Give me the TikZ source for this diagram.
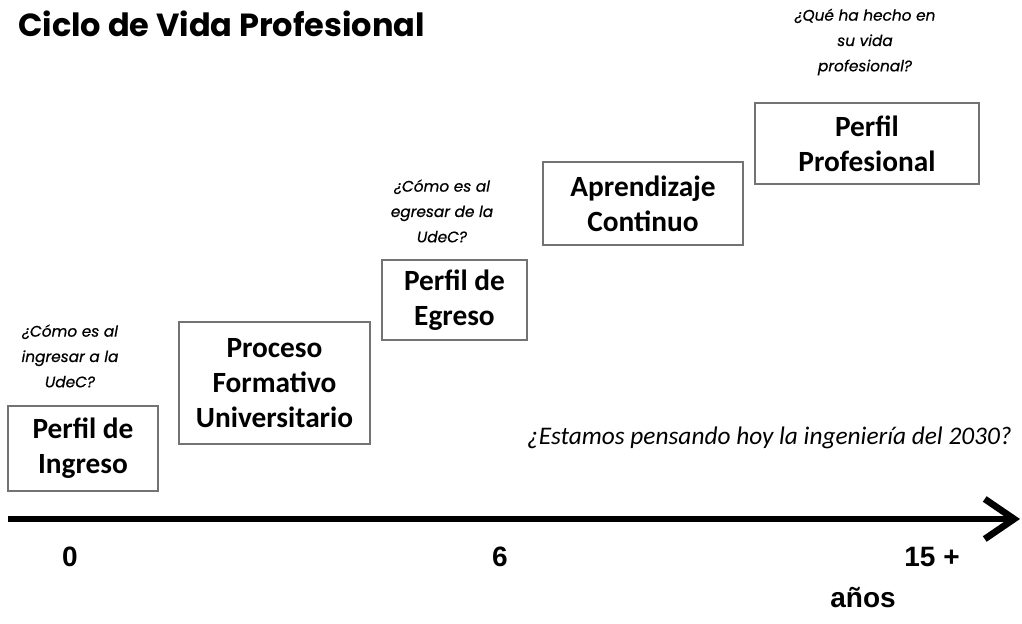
\documentclass[tikz,border=0pt]{standalone}
\usepackage{fontspec}
\setmainfont{Carlito}
\newfontfamily\titlefont{Poppins}
\newfontfamily\qfont{Poppins}[FakeBold=0.6]
\newfontfamily\numfont{Liberation Sans}
\usetikzlibrary{arrows.meta}
\begin{document}
\begin{tikzpicture}[x=0.75pt,y=-0.75pt,
  stage/.style 2 args={draw=black!55,line width=1pt,align=center,inner sep=0pt,
    minimum width=#1*0.75pt,minimum height=#2*0.75pt,
    font=\fontsize{22}{26}\selectfont\bfseries},
  question/.style={align=center,inner sep=0pt,text=black,
    font=\qfont\itshape\fontsize{11.5}{19}\selectfont},
  tick/.style={inner sep=0pt,font=\numfont\bfseries\fontsize{21}{24}\selectfont}]
\useasboundingbox (0,0) rectangle (1022,624);
\node[anchor=base west,inner sep=0pt,font=\titlefont\bfseries\fontsize{24}{28}\selectfont] (title) at (18,37) {Ciclo de Vida Profesional};

\node[stage={150}{85}] (ingreso) at (83,448.5) {Perfil de\\Ingreso};
\node[stage={191}{122}] (proceso) at (274.5,383) {Proceso\\Formativo\\Universitario};
\node[stage={145}{80}] (egreso) at (454.5,300) {Perfil de\\Egreso};
\node[stage={200}{83}] (aprend) at (643,203.5) {Aprendizaje\\Continuo};
\node[stage={224}{81}] (prof) at (867,143.5) {Perfil\\Profesional};

\node[question] (q1) at (70,356) {¿Cómo es al\\ingresar a la\\UdeC?};
\node[question] (q2) at (442,211) {¿Cómo es al\\egresar de la\\UdeC?};
\node[question] (q3) at (865,42) {¿Qué ha hecho en\\su vida\\profesional?};

\node[anchor=east,inner sep=0pt,font=\itshape\fontsize{19}{22}\selectfont,text=black] (q4) at (1012,438) {¿Estamos pensando hoy la ingeniería del 2030?};

\coordinate (start) at (8,519);
\coordinate (end) at (1020,519);
\draw[line width=4.5pt,-{Straight Barb[length=22,width=30,line width=5pt]}] (start) -- (end);

\node[tick] (t0) at (70,557) {0};
\node[tick] (t6) at (500,557) {6};
\node[tick] (t15) at (932,557) {15 +};
\node[tick] (anos) at (863,598) {años};
\end{tikzpicture}
\end{document}
